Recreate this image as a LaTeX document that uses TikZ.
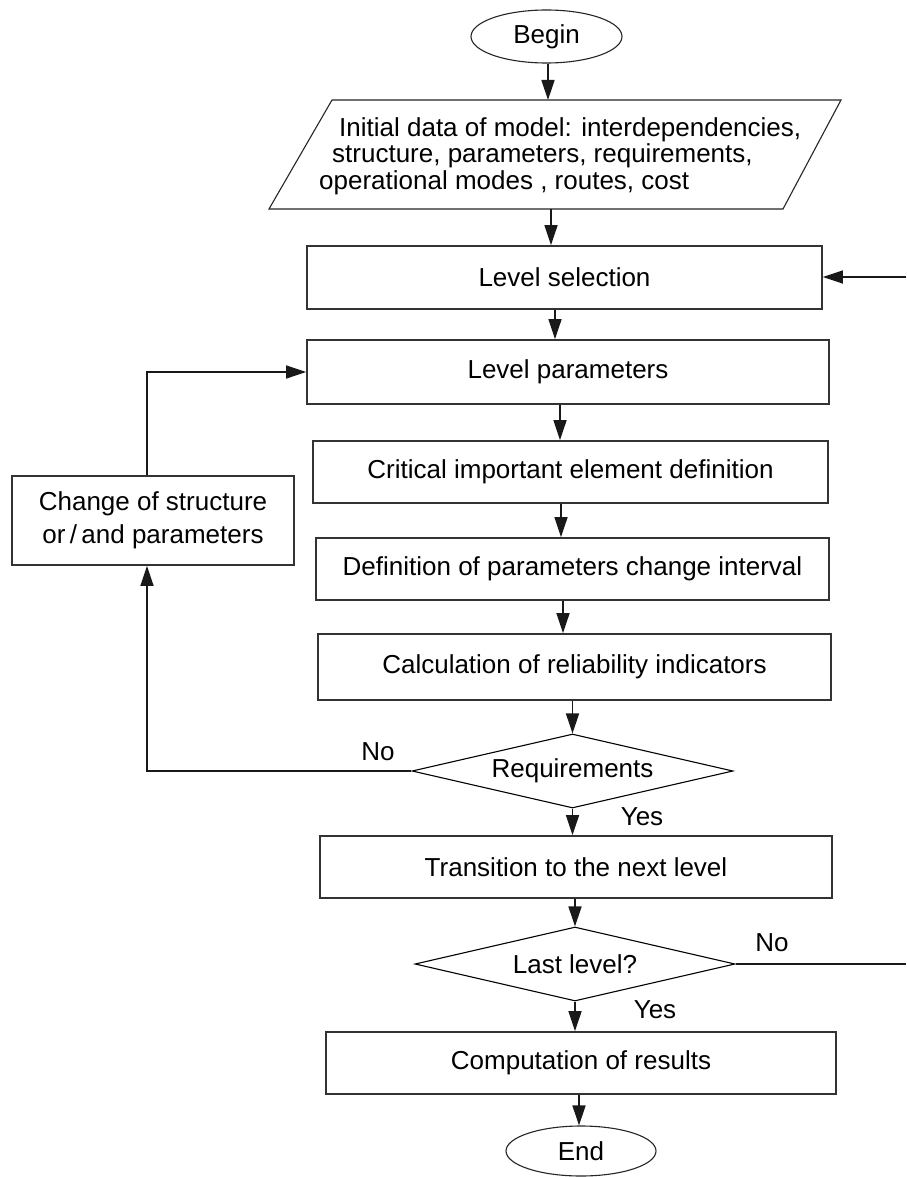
\documentclass[tikz,border=0pt]{standalone}
\usepackage{fontspec}
\setmainfont{Liberation Sans}
\usetikzlibrary{shapes.geometric,arrows.meta}
\begin{document}
\begin{tikzpicture}[x=1pt,y=-1pt,
  txt/.style={font=\fontsize{26}{26.5}\selectfont},
  box/.style={txt,draw=black!80,line width=1.7pt,rectangle,inner sep=0pt},
  dec/.style={txt,draw=black,line width=1.1pt,diamond,aspect=4.3,inner sep=0pt},
  term/.style={txt,draw=black!85,line width=1.1pt,ellipse,inner sep=0pt},
  arr/.style={draw=black!90,line width=1.5pt,-{Triangle[length=20pt,width=13pt]}},
  conn/.style={draw=black!90,line width=1.5pt},
  lbl/.style={txt,inner sep=0pt}]
\fill[white] (0,0) rectangle (906,1177);
\useasboundingbox (0,0) rectangle (906,1177);

% column coordinates for vertical arrows
\coordinate (a1) at (548,0);
\coordinate (a2) at (551,0);
\coordinate (a3) at (555,0);
\coordinate (a4) at (560,0);
\coordinate (a5) at (561,0);
\coordinate (a6) at (563,0);
\coordinate (a8) at (572.5,0);
\coordinate (a9) at (575,0);
\coordinate (a7) at (579,0);
\coordinate (lx) at (147,0);
\coordinate (rx) at (906,0);

\node[term,minimum width=151pt,minimum height=53pt] (begin) at (546.5,36.5) {Begin};

\draw[line width=1.1pt,draw=black!85] (332,100) coordinate (pTL) -- (841,100) coordinate (pTR)
  -- (783,209) coordinate (pBR) -- (269,209) coordinate (pBL) -- cycle;
\node[txt,align=left,anchor=west,inner sep=0pt] (inittext) at (319,156)
  {\hspace*{20pt}Initial data of model: interdependencies,\\
   \hspace*{13pt}structure, parameters, requirements,\\
   operational modes , routes, cost};

\node[box,minimum width=515pt,minimum height=63pt] (levelsel) at (564.5,277.5) {Level selection};
\node[box,minimum width=522pt,minimum height=64pt] (levelpar) at (568,372) {Level parameters};
\node[box,minimum width=515pt,minimum height=62pt] (crit) at (570.5,472) {Critical important element definition};
\node[box,minimum width=513pt,minimum height=62pt] (def) at (572.5,569) {Definition of parameters change interval};
\node[box,minimum width=513pt,minimum height=66pt] (calc) at (574.5,667) {Calculation of reliability indicators};
\node[dec,minimum width=321pt,minimum height=74pt] (req) at (572.5,771) {Requirements};
\node[box,minimum width=512pt,minimum height=62pt] (trans) at (576,867) {Transition to the next level};
\node[dec,minimum width=320pt,minimum height=74pt] (last) at (575,964) {Last level?};
\node[box,minimum width=510pt,minimum height=62pt] (comp) at (581,1063) {Computation of results};
\node[term,minimum width=150pt,minimum height=50pt] (end) at (581,1151) {End};

\node[box,minimum width=282pt,minimum height=89pt,align=center,font=\fontsize{26}{33}\selectfont] (chg) at (153,520.5)
  {Change of structure\\or\,/\,and parameters};

\node[lbl] (no1) at (378,752) {No};
\node[lbl] (yes1) at (642,817) {Yes};
\node[lbl] (no2) at (772,943) {No};
\node[lbl] (yes2) at (655,1010) {Yes};

% main flow
\draw[arr] (begin.south -| a1) -- (pTL -| a1);
\draw[arr] (pBL -| a2) -- (levelsel.north -| a2);
\draw[arr] (levelsel.south -| a3) -- (levelpar.north -| a3);
\draw[arr] (levelpar.south -| a4) -- (crit.north -| a4);
\draw[arr] (crit.south -| a5) -- (def.north -| a5);
\draw[arr] (def.south -| a6) -- (calc.north -| a6);
\draw[arr] (calc.south -| a8) -- (req.north -| a8);
\draw[arr] (req.south -| a8) -- (trans.north -| a8);
\draw[arr] (trans.south -| a9) -- (last.north -| a9);
\draw[arr] (last.south -| a9) -- (comp.north -| a9);
\draw[arr] (comp.south -| a7) -- (end.north -| a7);

% loops
\draw[arr] (chg.north -| lx) |- (levelpar.west);
\draw[arr] (req.west) -| (chg.south -| lx);
\draw[conn] (last.east) -- (last.east -| rx);
\coordinate (r1) at (906,277);
\draw[arr] (r1) -- (r1 -| levelsel.east);
\end{tikzpicture}
\end{document}
